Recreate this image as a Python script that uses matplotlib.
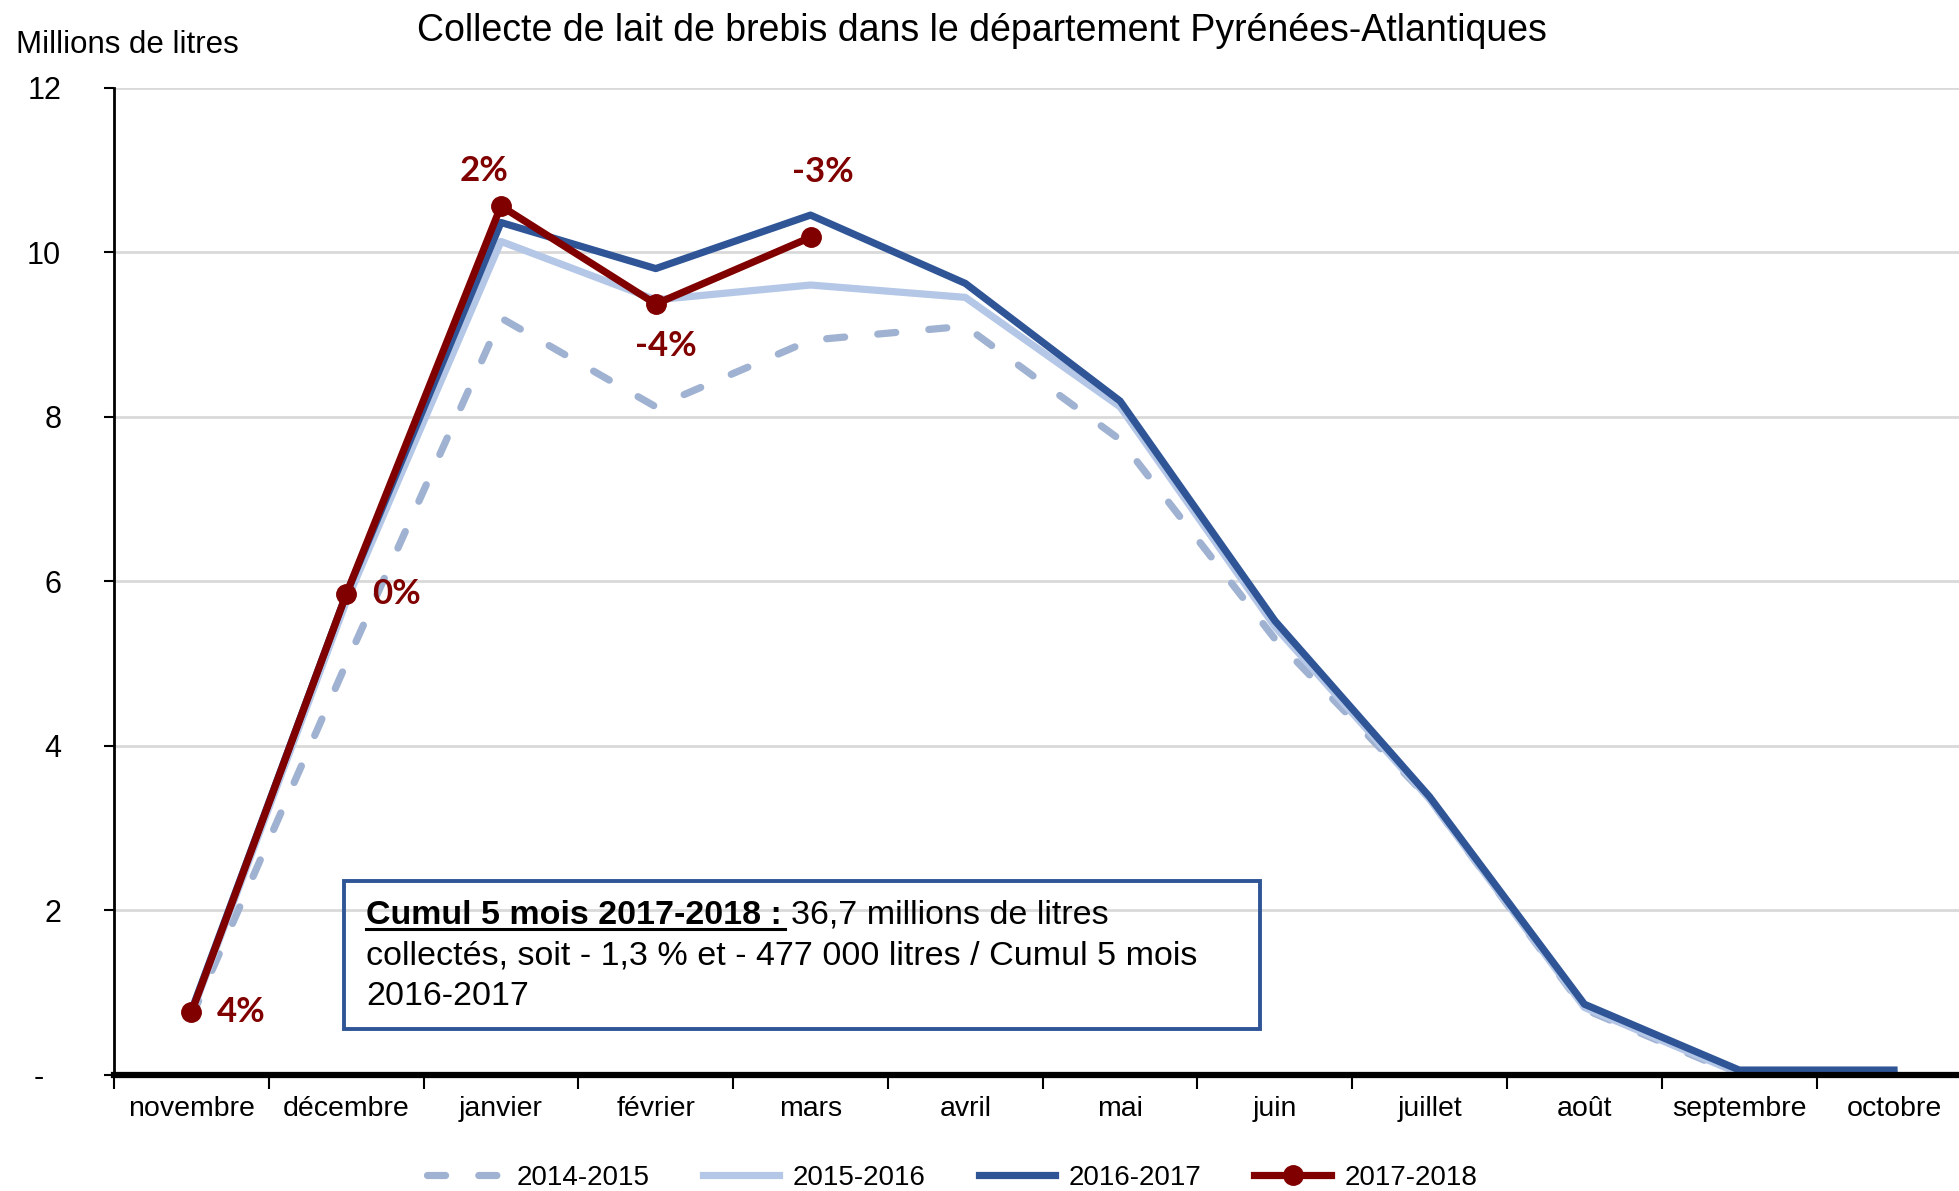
import matplotlib.pyplot as plt
from matplotlib.patches import Rectangle
from matplotlib.lines import Line2D

plt.rcParams['font.family'] = ['Liberation Sans', 'DejaVu Sans']

mois = ['novembre', 'décembre', 'janvier', 'février', 'mars', 'avril',
        'mai', 'juin', 'juillet', 'août', 'septembre', 'octobre']

c2014_2015 = [0.70, 5.00, 9.20, 8.12, 8.93, 9.10, 7.72, 5.30, 3.35, 0.80, 0.00, 0.00]
c2015_2016 = [0.74, 5.75, 10.13, 9.42, 9.60, 9.45, 8.12, 5.45, 3.35, 0.82, 0.02, 0.02]
c2016_2017 = [0.78, 5.84, 10.36, 9.80, 10.45, 9.62, 8.19, 5.52, 3.38, 0.86, 0.06, 0.06]
c2017_2018 = [0.76, 5.84, 10.56, 9.37, 10.18]
evol_2017_2018 = ['4%', '0%', '2%', '-4%', '-3%']

ytick_vals = [0, 2, 4, 6, 8, 10, 12]
ytick_labels = ['-  ', '2', '4', '6', '8', '10', '12']

col_dash = '#A0B2D1'
col_light = '#B4C7E7'
col_dark = '#2F5597'
col_red = '#800000'

fig = plt.figure(figsize=(19.59, 11.91), dpi=100)
ax = fig.add_axes([0.0582, 0.0974, 0.9418, 0.8291])

x = list(range(len(mois)))
ax.plot(x, c2014_2015, color=col_dash, lw=5.2, ls=(0, (2.5, 4.6)),
        dash_capstyle='round', label='2014-2015')
ax.plot(x, c2015_2016, color=col_light, lw=5.2, label='2015-2016')
ax.plot(x, c2016_2017, color=col_dark, lw=5.2, label='2016-2017')
ax.plot(range(len(c2017_2018)), c2017_2018, color=col_red, lw=5.2,
        marker='o', ms=14, label='2017-2018')

# étiquettes d'évolution
offsets = [(36, 0), (36, 0), (-12, 25), (7, -30), (9, 47)]
for i, (v, lab) in enumerate(zip(c2017_2018, evol_2017_2018)):
    ax.annotate(lab, (i, v), xytext=offsets[i], textcoords='offset points',
                ha='center', va='center', color=col_red, fontsize=25,
                fontweight='bold', family='Lato')

ax.set_yticks(ytick_vals)
ax.set_yticklabels(ytick_labels)
ax.yaxis.grid(True, color='#D9D9D9', lw=2)
ax.set_axisbelow(True)
ax.tick_params(axis='y', length=7, width=1.5, pad=31, labelsize=22)

ax.set_xticks(x)
ax.set_xticklabels(mois)
ax.set_xticks([i - 0.5 for i in range(len(mois) + 1)], minor=True)
ax.tick_params(axis='x', which='major', length=0, pad=15, labelsize=20.5)
ax.tick_params(axis='x', which='minor', length=10, width=1.5)
ax.set_xlim(-0.5, 11.42)
ax.set_ylim(0, 12)

for s in ['top', 'right']:
    ax.spines[s].set_visible(False)
ax.spines['left'].set_linewidth(2)
ax.spines['bottom'].set_linewidth(4.5)

fig.text(0.501, 0.974, 'Collecte de lait de brebis dans le département Pyrénées-Atlantiques',
         ha='center', va='center', fontsize=27)
fig.text(0.0083, 0.962, 'Millions de litres', ha='left', va='center', fontsize=22.5)

# encadré
fig.patches.append(Rectangle((0.1756, 0.136), 0.4676, 0.1243, transform=fig.transFigure,
                             fill=False, edgecolor=col_dark, lw=2.8))
tb = fig.text(0.1868, 0.2317, 'Cumul 5 mois 2017-2018 : ', ha='left', va='center',
              fontsize=24.5, fontweight='bold')
fig.canvas.draw()
bb = tb.get_window_extent().transformed(fig.transFigure.inverted())
fig.text(bb.x1, 0.2317, '36,7 millions de litres', ha='left', va='center', fontsize=24.5)
fig.add_artist(Line2D([bb.x0, bb.x1 - 0.003], [bb.y0 + 0.001, bb.y0 + 0.001],
                      color='black', lw=2.2, transform=fig.transFigure))
fig.text(0.1868, 0.197, 'collectés, soit - 1,3 % et - 477 000 litres / Cumul 5 mois',
         ha='left', va='center', fontsize=24.5)
fig.text(0.1868, 0.1636, '2016-2017', ha='left', va='center', fontsize=24.5)

ax.legend(loc='center', bbox_to_anchor=(0.486, 0.0113), bbox_transform=fig.transFigure,
          ncol=4, frameon=False, fontsize=20, handlelength=2.75, handletextpad=0.5,
          columnspacing=1.9)

fig.savefig('out.png', dpi=100)
